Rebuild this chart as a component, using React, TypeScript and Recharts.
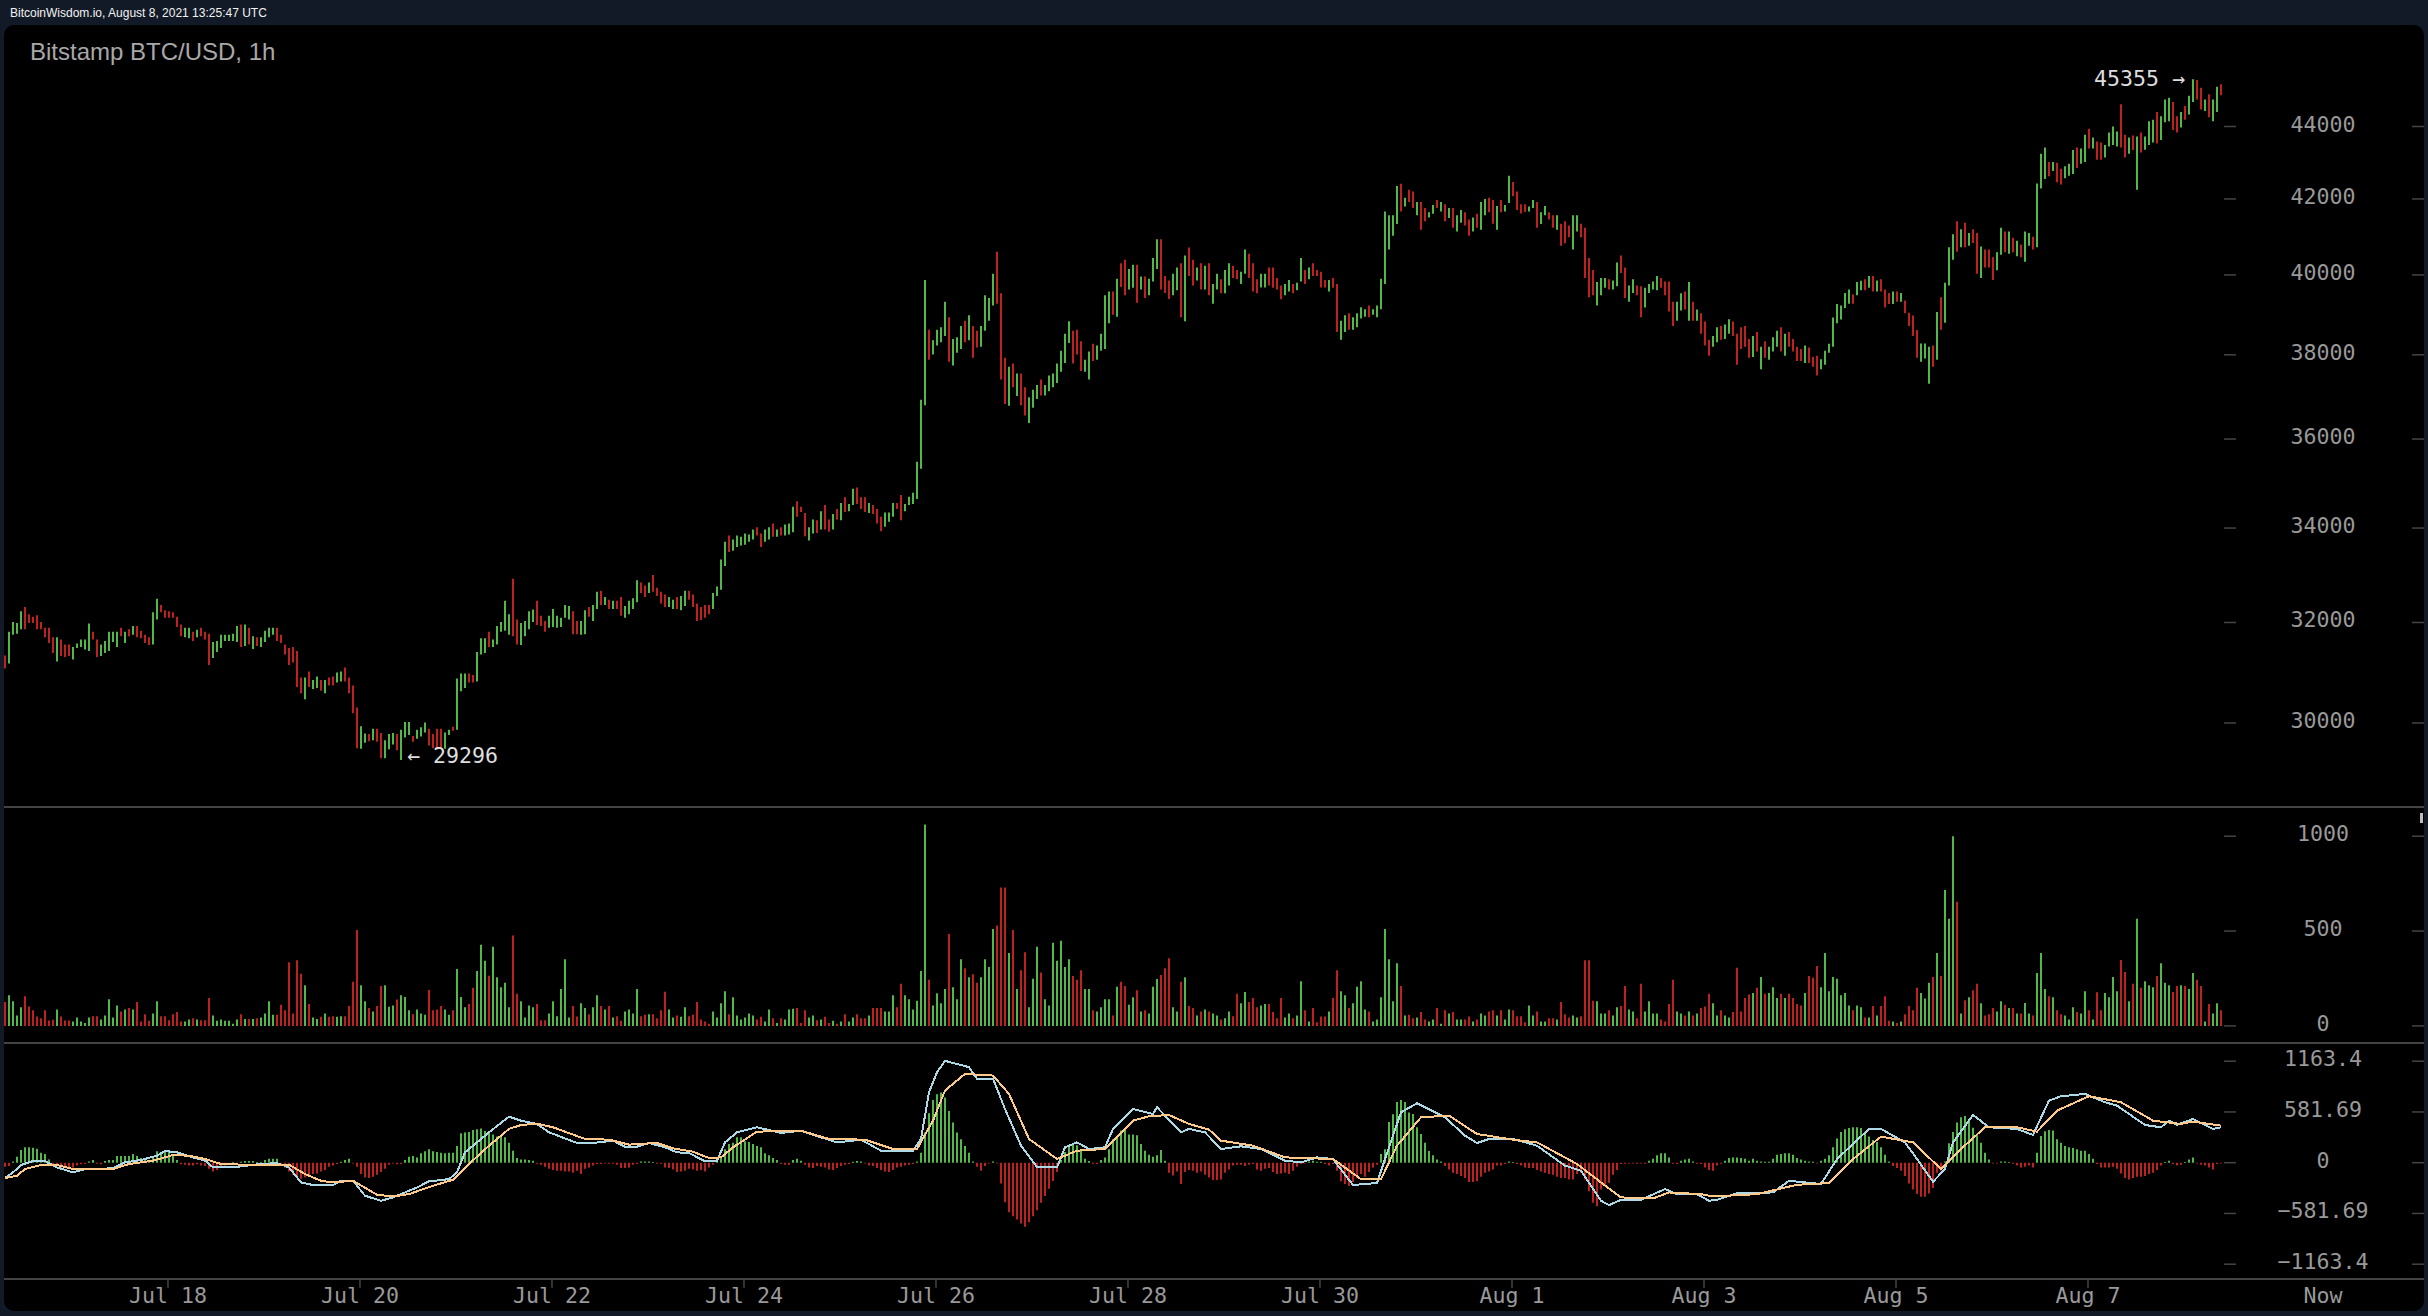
import React from "react";
import { ComposedChart, Bar, Line, XAxis, YAxis, Cell } from "recharts";

const UP = "#52b848";
const DOWN = "#bf2020";
const MONO = "'DejaVu Sans Mono', monospace";
const SANS = "'Liberation Sans', Arial, sans-serif";

const directions = (
  "rggggrrrrr" + "rrrgrrrggg" + "ggrrgggggr" + "grgrrrrggr" + "rrrrrggrgr" + "rrgggggggr" + "grgrggggrr" + "rrrrrgrggr" + "grrggrrrrg" + "grgrrgggrg" +
  "ggrgggrrrr" + "ggrgggrrgg" + "grgggggrrg" + "gggrrrgggg" + "ggrrggrggr" + "grgrrggggr" + "rgrrrrggrg" + "grrrrrrggg" + "grggggggrr" + "ggrgrgggrr" +
  "rggrgrrgrg" + "rggrrrgrrr" + "gggrrggggg" + "grggggrggg" + "rgrrggggrr" + "rgrgrrgggr" + "gggggggrrr" + "ggrggggrgr" + "rggrgrgggr" + "rrggrgrrgr" +
  "grggrggrrg" + "grrrggrrrr" + "ggrggrgrrr" + "rgrrggrggg" + "grgggggggr" + "grrgrrggrg" + "rgrggrrgrg" + "grrgrggrrr" + "rggrggrrgr" + "rrggrrrrgg" +
  "grggrrggrr" + "ggggrrrrgg" + "rgrgrrrggr" + "ggrrrrrgrg" + "rgggrgrrrr" + "grrrgggggg" + "ggrggrgrgr" + "rrgrgrrrrg" + "ggrgrgggrg" + "rgrrgrrrgg" +
  "rgrgrggrgg" + "grgrrgggrg" + "grgrrggggr" + "rgrgrgggrg" + "ggrrgrggrr" + "grggr"
).split("");

const highs = [
  31330,31810,32010,31990,32230,32320,32170,32120,32150,32010,
  31890,31890,31700,31700,31650,31550,31550,31500,31570,31650,
  31650,31980,31810,31650,31550,31620,31810,31810,31810,31890,
  31810,31860,31930,31930,31830,31750,31700,32210,32490,32360,
  32250,32230,32210,32120,31960,31890,31890,31810,31850,31890,
  31810,31770,31600,31620,31750,31750,31750,31770,31930,31960,
  31960,31890,31720,31700,31700,31830,31890,31890,31890,31750,
  31550,31480,31500,31420,30890,30890,31010,30840,30910,30840,
  30840,30890,30910,30990,31010,31090,30890,30730,30300,29940,
  29800,29790,29890,29890,29810,29670,29790,29810,29790,29870,
  30020,30020,29750,29870,29920,30010,29890,29790,29890,29890,
  29820,29870,29930,30870,30970,30970,30970,30940,31400,31680,
  31680,31810,31650,31930,32010,32450,32170,32910,32060,31990,
  32030,32230,32270,32450,32140,32030,32140,32280,32140,32100,
  32360,32340,32230,32030,32030,32250,32320,32360,32640,32660,
  32530,32470,32450,32450,32530,32340,32450,32500,32880,32830,
  32770,32830,32990,32720,32640,32580,32530,32470,32530,32550,
  32660,32660,32580,32390,32320,32360,32360,32610,32750,33320,
  33700,33840,33750,33840,33810,33880,33860,33970,34020,33880,
  33970,34020,34100,33970,34020,34080,34100,34470,34590,34470,
  34330,34020,34190,34170,34370,34510,34190,34310,34420,34550,
  34680,34530,34870,34900,34680,34680,34550,34510,34420,34250,
  34340,34340,34550,34550,34730,34530,34690,34780,35480,36920,
  39870,38620,38360,38620,38680,39320,38930,38390,38430,38710,
  38840,38980,38710,38590,38710,39480,39410,40030,40600,39530,
  37930,37710,37790,37550,37550,37220,36980,37160,37270,37400,
  37270,37500,37550,37790,38100,38520,38830,38590,38620,38330,
  37880,38080,38270,38230,38520,39480,39580,39580,39900,40300,
  40390,40150,40260,40260,39960,39960,39900,40440,40930,40930,
  39970,39860,40030,40190,40300,40500,40710,40390,40190,40300,
  40240,40300,39770,40030,39890,40130,40300,40240,40130,40080,
  40660,40550,40300,39890,40030,40030,40190,40190,39920,39730,
  39770,39870,39770,39800,40440,40130,40190,40300,40130,40080,
  39870,39870,39920,39770,38840,38980,39030,38930,39030,39180,
  39130,39220,39130,39220,39900,41660,41560,41560,42350,42410,
  42030,42250,42200,41920,41920,41760,41640,41840,41970,41920,
  41860,41760,41760,41560,41700,41640,41450,41500,41600,41920,
  42000,42030,41970,41810,41970,41840,42630,42460,42200,41860,
  41860,41800,41970,41920,41640,41810,41640,41560,41560,41340,
  41400,41290,41560,41560,41340,41230,40440,40130,39820,39920,
  39920,39890,39860,40320,40500,40190,39730,39890,39730,39710,
  39670,39770,39830,39970,39920,39830,39830,39320,39320,39530,
  39580,39820,39320,39120,39030,38820,38370,38460,38680,38710,
  38750,38880,38820,38520,38680,38710,38390,38460,38560,38200,
  38330,38200,38430,38590,38680,38520,38560,38390,38200,38140,
  38230,38180,37950,37980,37890,38100,38270,38920,39260,39220,
  39540,39630,39500,39820,39850,39890,39970,39970,39860,39890,
  39630,39540,39580,39580,39540,39350,39040,38970,38610,38280,
  38280,38200,38230,39060,39430,39800,40720,41060,41400,41190,
  41360,41090,41190,41090,40740,40660,40660,40460,40590,41230,
  41130,41130,40970,40890,40790,41130,41090,40990,42420,43240,
  43410,43010,43010,42990,42820,42890,42960,43340,43410,43380,
  43770,43940,43690,43580,43550,43480,43830,44000,43860,44630,
  43770,43690,43750,43720,43830,43720,44150,44190,44410,44290,
  44770,44820,44700,44290,44410,44580,44880,45355,45330,45110,
  44770,44920,44770,45140,45210,
];

const lows = [
  31070,31170,31750,31770,31860,31860,31990,31990,31860,31860,
  31700,31580,31380,31210,31320,31300,31320,31250,31480,31500,
  31450,31420,31650,31300,31320,31380,31420,31600,31500,31720,
  31580,31720,31750,31700,31680,31580,31540,31550,32060,32210,
  32100,32100,32100,31910,31720,31700,31680,31620,31700,31720,
  31650,31140,31280,31400,31480,31620,31620,31620,31600,31500,
  31520,31550,31460,31520,31500,31600,31700,31750,31620,31580,
  31350,31140,31190,30700,30580,30460,30700,30660,30680,30630,
  30580,30730,30730,30790,30810,30810,30580,30190,29520,29510,
  29620,29650,29670,29640,29330,29330,29500,29590,29480,29296,
  29720,29770,29640,29700,29740,29820,29570,29520,29500,29510,
  29510,29770,29850,29870,30620,30680,30790,30790,30810,31350,
  31380,31500,31500,31550,31810,31830,31750,31720,31550,31540,
  31720,31860,32010,31950,31930,31810,31890,31910,31890,31910,
  32100,32060,31760,31760,31750,31760,32120,32030,32280,32360,
  32360,32280,32280,32280,32140,32100,32170,32280,32420,32610,
  32530,32610,32640,32550,32390,32320,32320,32280,32280,32250,
  32340,32470,32320,32030,32050,32100,32170,32280,32550,32680,
  33180,33480,33510,33590,33620,33640,33700,33750,33840,33590,
  33700,33750,33810,33810,33840,33840,33860,33910,34250,34350,
  33820,33730,33880,33890,33970,33970,33920,33970,34190,34170,
  34350,34370,34510,34530,34420,34350,34330,34310,34100,33930,
  34030,34140,34250,34420,34170,34370,34510,34530,34640,35320,
  36790,37880,38010,38230,38310,38460,37830,37740,38050,38140,
  38310,38360,37930,38180,38200,38590,38840,39220,39270,37400,
  36820,36780,37220,37010,36790,36550,36370,36730,36940,37020,
  37020,37120,37220,37320,37590,37800,38290,37790,38010,37610,
  37590,37400,37850,37880,38100,38140,38780,38990,38940,39690,
  39480,39630,39670,39290,39630,39410,39480,39830,40150,39630,
  39540,39390,39480,39610,38930,38830,39970,39730,39860,39630,
  39630,39480,39270,39630,39530,39530,39730,39920,39890,39770,
  40030,39920,39580,39530,39680,39680,39730,39670,39630,39380,
  39480,39580,39530,39610,39830,39770,39890,39970,39970,39680,
  39680,39580,39670,38560,38370,38560,38620,38620,38680,38900,
  38940,38930,38990,38930,39130,39770,40660,41020,41330,41660,
  41800,41920,41760,41560,41180,41400,41500,41600,41760,41660,
  41400,41490,41230,41130,41360,41290,41020,41130,41230,41180,
  41560,41640,41340,41180,41640,41660,41890,42070,41700,41610,
  41650,41660,41760,41230,41330,41560,41450,41230,41180,40760,
  40820,40980,40660,41130,40980,39920,39430,39480,39220,39480,
  39670,39630,39630,39710,40050,39410,39320,39540,39480,38930,
  39170,39540,39630,39610,39670,39480,39070,38710,38840,39100,
  39120,38840,38840,38840,38520,38230,37980,38200,38310,38370,
  38390,38520,38460,37760,38140,38200,37930,37950,38080,37650,
  37930,37880,38080,38200,38080,37980,38200,38080,37850,37850,
  37800,37800,37710,37500,37650,37760,38050,38200,38780,38870,
  39160,39270,39270,39480,39610,39610,39670,39580,39580,39580,
  39170,39260,39260,39320,39320,39030,38710,38460,37930,37830,
  37910,37300,37710,37880,38620,38790,39730,40390,40600,40720,
  40720,40760,40830,40030,39920,40190,40190,39870,40120,40520,
  40590,40550,40590,40480,40460,40340,40760,40660,40720,42280,
  42540,42620,42760,42450,42390,42560,42630,42680,42840,42960,
  43010,43380,43380,43070,43070,43130,43440,43480,43440,43410,
  43130,43240,43340,42250,43270,43350,43480,43550,43520,43620,
  44120,44150,43900,43830,43970,44190,44340,44700,44770,44480,
  44440,44260,44150,44410,44890,
];

const volumes = [
  126,162,130,55,98,156,103,82,50,41,
  82,28,32,87,50,28,28,23,44,23,
  16,44,51,51,34,55,140,44,108,76,
  87,94,87,126,23,62,27,66,130,51,
  51,30,62,73,23,23,34,41,34,30,
  30,147,55,27,34,27,27,12,34,62,
  37,37,37,41,44,66,130,59,59,112,
  83,335,66,346,275,215,115,44,37,48,
  66,48,51,48,51,51,105,233,506,215,
  130,94,76,105,211,215,101,108,139,162,
  153,83,62,87,66,59,190,83,87,105,
  87,59,83,300,153,98,115,201,290,428,
  343,265,417,257,204,227,98,476,169,130,
  44,108,98,115,30,30,66,130,51,194,
  352,44,105,50,119,94,62,98,162,105,
  87,105,44,51,27,76,87,66,194,51,
  59,62,62,41,83,180,87,44,55,48,
  98,51,59,126,34,23,12,76,44,119,
  183,62,151,55,34,44,66,55,34,48,
  23,87,41,16,41,34,87,90,94,16,
  83,44,55,30,34,48,16,27,12,23,
  62,23,44,62,41,41,55,94,94,94,
  76,76,162,98,222,162,140,87,133,290,
  1062,243,108,172,119,194,485,204,140,352,
  304,257,272,227,257,352,311,511,529,730,
  730,384,506,194,293,389,98,249,417,282,
  140,108,439,343,449,311,352,263,243,293,
  194,194,83,76,98,140,140,55,206,233,
  210,112,151,188,76,83,66,206,247,268,
  304,357,98,76,233,257,105,94,55,76,
  87,76,66,55,34,41,76,51,169,119,
  179,126,147,98,108,115,115,73,41,147,
  44,66,41,55,236,83,23,94,20,50,
  50,76,147,293,183,162,94,119,206,236,
  87,76,23,34,151,511,352,130,330,210,
  55,59,41,44,73,34,23,34,94,12,
  82,66,73,34,34,34,50,23,34,66,
  55,76,82,55,82,34,87,82,51,51,
  20,108,55,76,23,23,41,41,34,126,
  62,44,55,44,51,346,346,133,130,66,
  66,83,55,98,105,210,87,76,41,222,
  76,130,66,66,34,23,115,243,76,66,
  55,76,55,66,94,103,169,119,55,82,
  55,44,73,307,76,147,165,174,201,258,
  170,174,204,147,169,147,169,147,115,108,
  174,263,254,316,204,384,183,258,249,162,
  174,108,83,108,98,44,44,105,55,105,
  156,27,23,16,23,62,105,83,201,174,
  144,227,258,384,263,716,565,1000,654,66,
  135,151,188,222,119,55,62,94,76,130,
  112,94,94,66,66,121,66,55,279,384,
  194,156,151,82,62,55,34,98,73,66,
  183,82,34,178,82,174,151,258,183,348,
  284,130,222,565,201,236,215,204,263,330,
  227,215,179,210,215,210,194,279,243,210,
  23,115,66,119,82,
];

const macdHist = [
  -46,-38,15,69,146,176,176,172,161,115,
  100,38,-31,-38,-69,-61,-69,-54,-31,-19,
  -15,15,31,-11,-19,19,31,31,77,77,
  77,77,100,77,54,31,15,61,130,123,
  130,123,100,31,-19,-23,-31,-31,-19,-31,
  -38,-69,-100,-84,-54,-31,-11,8,-11,11,
  19,19,19,8,8,31,46,46,46,-11,
  -54,-100,-138,-169,-184,-169,-153,-130,-123,-100,
  -84,-46,-31,-15,11,31,46,-8,-46,-130,
  -169,-176,-161,-138,-107,-69,-23,-8,-19,-15,
  31,69,77,61,107,130,153,130,123,115,
  107,115,115,192,337,345,352,375,383,391,
  364,345,322,299,314,291,230,138,54,38,
  38,31,23,-11,-23,-46,-69,-84,-92,-92,
  -100,-100,-115,-92,-130,-69,-54,-31,-15,-15,
  -8,-11,-11,-23,-61,-61,-54,-23,-15,15,
  15,15,8,-11,-11,-54,-61,-77,-107,-100,
  -92,-69,-77,-92,-84,-100,-54,-23,8,69,
  153,214,230,291,291,245,237,214,192,176,
  107,84,54,31,-15,-23,-23,31,46,23,
  -23,-54,-61,-38,-46,-54,-77,-84,-61,-38,
  -23,-15,11,19,15,-8,-31,-38,-61,-84,
  -100,-107,-84,-54,-46,-31,-23,-15,15,115,
  345,567,720,785,804,747,594,460,345,268,
  192,115,15,-46,-92,-38,-8,15,-8,-237,
  -452,-567,-613,-651,-697,-735,-682,-613,-544,-460,
  -383,-299,-211,-107,31,123,192,214,199,138,
  46,19,-11,-15,31,61,153,268,283,368,
  383,322,322,314,214,138,92,69,84,146,
  23,-115,-146,-100,-245,-107,-84,-92,-115,-100,
  -138,-169,-199,-199,-192,-115,-77,-31,-23,-23,
  -38,-23,-15,-77,-92,-69,-61,-107,-130,-123,
  -115,-130,-92,-46,-15,-8,15,23,11,11,
  -15,-31,-15,-92,-214,-245,-268,-222,-176,-130,
  -161,-107,-54,-23,100,153,467,555,697,720,
  697,575,559,406,329,230,134,84,38,15,
  -38,-77,-115,-130,-153,-176,-222,-222,-214,-161,
  -115,-100,-77,-31,-31,-15,15,8,-15,-31,
  -54,-61,-61,-84,-100,-115,-130,-138,-161,-176,
  -176,-192,-192,-130,-115,-192,-326,-460,-498,-306,
  -276,-230,-138,-84,-15,-11,-8,-8,-11,-8,
  -11,23,46,84,107,107,61,-11,-15,23,
  38,46,15,-11,-15,-54,-84,-92,-31,-11,
  23,54,61,61,54,46,23,46,23,15,
  11,11,46,92,100,107,107,92,54,38,
  23,15,11,-8,23,46,84,176,276,352,
  383,398,406,406,398,345,299,260,237,176,
  92,15,-38,-61,-92,-153,-237,-306,-360,-391,
  -391,-352,-291,-115,-92,15,222,352,460,521,
  536,498,402,314,230,115,38,-8,-8,15,
  15,8,-11,-31,-54,-46,-31,-54,115,306,
  360,375,368,268,230,192,176,169,153,138,
  138,100,46,-15,-54,-54,-54,-46,-69,-123,
  -176,-192,-176,-161,-161,-153,-130,-115,-84,-31,
  8,23,-15,-31,-23,8,38,61,-8,-23,
  -31,-54,-77,-15,-8,
];

const difHours = [0,2,4,7,10,13,17,20,27,30,34,38,40,43,47,50,52,57,63,68,71,74,77,82,84,87,90,94,97,100,103,106,111,113,115,121,126,129,133,136,143,147,152,155,158,161,165,168,171,175,178,180,183,188,194,199,204,208,214,219,227,229,231,233,235,241,243,247,250,254,258,263,265,268,271,275,277,282,287,288,294,296,300,304,309,314,320,324,328,332,337,343,345,349,353,360,365,368,371,377,383,390,394,399,401,404,409,415,418,423,426,428,433,442,446,454,458,466,469,475,478,482,485,487,492,496,503,507,511,514,520,525,528,535,539,541,543,547,552,554];
const difValues = [-176,-111,-27,19,19,-54,-111,-73,-65,4,31,80,134,119,61,23,-54,-54,-19,-4,-54,-226,-256,-256,-207,-207,-379,-436,-398,-341,-283,-214,-188,-111,119,348,528,482,444,348,226,226,253,184,184,226,176,119,111,15,23,233,348,406,341,367,291,233,264,138,138,272,807,1037,1167,1095,961,961,616,195,-50,-50,176,233,157,176,387,616,559,635,348,387,348,157,188,157,23,4,61,42,-256,-233,42,578,681,520,310,226,272,272,195,-34,-92,-436,-486,-425,-425,-302,-360,-360,-436,-425,-348,-341,-207,-245,42,387,387,233,42,-218,-73,233,547,406,387,318,712,762,788,693,654,432,406,482,436,501,387,406];

const deaHours = [0,3,5,9,13,17,27,31,37,42,46,50,54,60,71,75,79,82,87,93,97,101,107,112,116,121,126,129,133,137,145,151,156,163,167,172,176,179,182,188,199,206,215,222,228,232,235,240,247,251,256,263,268,275,282,286,291,296,301,304,312,320,332,339,344,348,354,361,368,377,383,393,399,404,412,416,424,427,438,448,456,462,469,477,484,489,495,503,508,513,521,529,537,544,547,554];
const deaValues = [-176,-149,-73,-27,-27,-73,-73,-15,23,88,80,42,-15,-23,-23,-130,-207,-226,-207,-367,-387,-360,-264,-195,-15,195,387,432,448,406,272,264,207,226,165,126,54,61,176,356,367,272,264,157,157,482,827,1018,999,788,272,42,138,157,482,532,547,444,379,253,195,61,42,-188,-188,195,520,540,329,264,233,-15,-226,-398,-409,-341,-360,-387,-360,-253,-233,42,299,233,-73,157,406,406,356,597,762,693,482,444,471,425];

const priceTicks = [30000, 32000, 34000, 36000, 38000, 40000, 42000, 44000];
const volumeTicks = [0, 500, 1000];
const macdTicks = [1163.4, 581.69, 0, -581.69, -1163.4];
const xTickHours = [40.75, 88.75, 136.75, 184.75, 232.75, 280.75, 328.75, 376.75, 424.75, 472.75, 520.75];
const xTickLabels = ["Jul 18", "Jul 20", "Jul 22", "Jul 24", "Jul 26", "Jul 28", "Jul 30", "Aug 1", "Aug 3", "Aug 5", "Aug 7"];

const rows = highs.map((h, i) => ({
  i,
  range: [lows[i], h],
  volume: volumes[i],
  hist: macdHist[i],
  dir: directions[i],
}));
const difRows = difHours.map((i, k) => ({ i, dif: difValues[k] }));
const deaRows = deaHours.map((i, k) => ({ i, dea: deaValues[k] }));

const X_DOMAIN: [number, number] = [-0.25, 557.75];
const CHART_W = 2420;
const AXIS_W = 188;
const PLOT_W = CHART_W - AXIS_W;

const fmtY = (v: number) => (v < 0 ? "\u2212" + Math.abs(v) : String(v));

const YTick = (props: any) => {
  const { y, payload } = props;
  return (
    <g>
      <line x1={PLOT_W - 12} x2={PLOT_W} y1={y} y2={y} stroke="#444" strokeWidth={1.5} />
      <line x1={CHART_W - 12} x2={CHART_W} y1={y} y2={y} stroke="#444" strokeWidth={1.5} />
      <text x={PLOT_W + 87} y={y - 2.5} textAnchor="middle" dominantBaseline="central" fill="#999" fontFamily={MONO} fontSize={21.6}>
        {fmtY(payload.value)}
      </text>
    </g>
  );
};

const XTick = (props: any) => {
  const { x, payload } = props;
  const label = xTickLabels[xTickHours.indexOf(payload.value)];
  return (
    <g>
      <line x1={x} x2={x} y1={237} y2={245} stroke="#444" strokeWidth={1.5} />
      <text x={x} y={252.5} textAnchor="middle" dominantBaseline="central" fill="#999" fontFamily={MONO} fontSize={21.6}>
        {label}
      </text>
    </g>
  );
};

const colorOf = (d: string) => (d === "g" ? UP : DOWN);

const abs = (left: number, top: number, extra: any = {}) => ({
  position: "absolute" as const,
  left,
  top,
  ...extra,
});

export default function App() {
  return (
    <div style={abs(0, 0, { width: 2428, height: 1316, background: "#131a27", overflow: "hidden" })}>
      <div style={abs(10, 6, { fontFamily: SANS, fontSize: 12, color: "#f2f2f2", lineHeight: "15px", whiteSpace: "nowrap" })}>
        BitcoinWisdom.io, August 8, 2021 13:25:47 UTC
      </div>
      <div style={abs(4, 25, { width: 2420, height: 1286, background: "#000", borderRadius: 10 })} />

      <div style={abs(30, 38, { fontFamily: SANS, fontSize: 24, color: "#a8a8a8", lineHeight: "28px", whiteSpace: "nowrap" })}>
        Bitstamp BTC/USD, 1h
      </div>

      <div style={abs(4, 25)}>
        <ComposedChart width={CHART_W} height={782} data={rows} margin={{ top: 0, right: 0, bottom: 0, left: 0 }}>
          <XAxis dataKey="i" type="number" domain={X_DOMAIN} hide allowDataOverflow />
          <YAxis orientation="right" width={AXIS_W} scale="log" domain={[28425, 46963]} ticks={priceTicks} interval={0} tick={YTick} axisLine={false} tickLine={false} allowDataOverflow />
          <Bar dataKey="range" barSize={2} isAnimationActive={false}>
            {rows.map((r) => (
              <Cell key={r.i} fill={colorOf(r.dir)} />
            ))}
          </Bar>
        </ComposedChart>
      </div>

      <div style={abs(4, 807)}>
        <ComposedChart width={CHART_W} height={236} data={rows} margin={{ top: 0, right: 0, bottom: 0, left: 0 }}>
          <XAxis dataKey="i" type="number" domain={X_DOMAIN} hide allowDataOverflow />
          <YAxis orientation="right" width={AXIS_W} domain={[-90, 1154]} ticks={volumeTicks} interval={0} tick={YTick} axisLine={false} tickLine={false} allowDataOverflow />
          <Bar dataKey="volume" barSize={2} isAnimationActive={false}>
            {rows.map((r) => (
              <Cell key={r.i} fill={colorOf(r.dir)} />
            ))}
          </Bar>
        </ComposedChart>
      </div>

      <div style={abs(4, 1043)}>
        <ComposedChart width={CHART_W} height={268} data={rows} margin={{ top: 0, right: 0, bottom: 0, left: 0 }}>
          <XAxis dataKey="i" type="number" domain={X_DOMAIN} ticks={xTickHours} interval={0} tick={XTick} height={32} axisLine={false} tickLine={false} allowDataOverflow />
          <YAxis orientation="right" width={AXIS_W} domain={[-1333, 1372]} ticks={macdTicks} interval={0} tick={YTick} axisLine={false} tickLine={false} allowDataOverflow />
          <Bar dataKey="hist" barSize={2} isAnimationActive={false}>
            {rows.map((r) => (
              <Cell key={r.i} fill={r.hist >= 0 ? UP : DOWN} />
            ))}
          </Bar>
          <Line data={difRows} dataKey="dif" stroke="#add8e6" strokeWidth={2} dot={false} activeDot={false} shapeRendering="crispEdges" isAnimationActive={false} />
          <Line data={deaRows} dataKey="dea" stroke="#ffc98a" strokeWidth={2} dot={false} activeDot={false} shapeRendering="crispEdges" isAnimationActive={false} />
        </ComposedChart>
      </div>

      <div style={abs(4, 806, { width: 2420, height: 2, background: "#444" })} />
      <div style={abs(4, 1042, { width: 2420, height: 2, background: "#444" })} />
      <div style={abs(4, 1278, { width: 2420, height: 2, background: "#444" })} />
      <div style={abs(2420, 813, { width: 3, height: 10, background: "#bbb" })} />

      <div style={abs(2094, 66, { fontFamily: MONO, fontSize: 21.6, color: "#ddd", lineHeight: "26px", whiteSpace: "pre" })}>45355 →</div>
      <div style={abs(407, 743, { fontFamily: MONO, fontSize: 21.6, color: "#ddd", lineHeight: "26px", whiteSpace: "pre" })}>← 29296</div>
      <div style={abs(2323, 1283, { transform: "translateX(-50%)", fontFamily: MONO, fontSize: 21.6, color: "#999", lineHeight: "26px" })}>Now</div>
    </div>
  );
}
